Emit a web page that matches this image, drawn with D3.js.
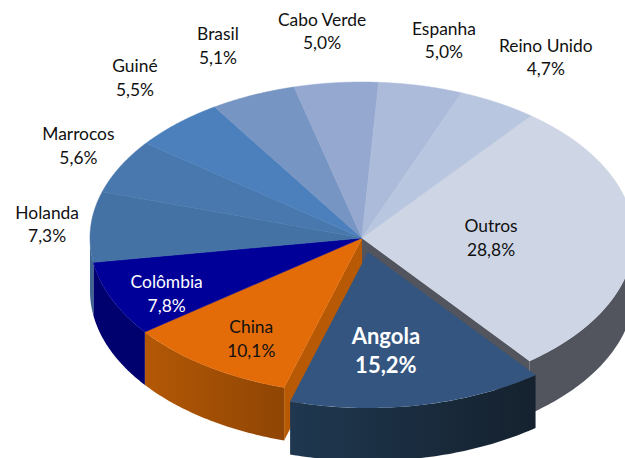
<!DOCTYPE html>
<html lang="pt">
<head>
    <meta charset="UTF-8">
    <title>Pie 3D</title>
    <script src="https://d3js.org/d3.v7.min.js"></script>
    <style>
        html, body { margin: 0; padding: 0; background: #ffffff; overflow: hidden; }
        svg { display: block; }
        text { font-family: Lato, "Open Sans", sans-serif; font-size: 17.4px; }
    </style>
</head>
<body>
    <svg width="625" height="458"></svg>
    <script>
        const countries = ["Outros", "Angola", "China", "Colômbia", "Holanda", "Marrocos", "Guiné", "Brasil", "Cabo Verde", "Espanha", "Reino Unido"];
        const shares = [28.8, 15.2, 10.1, 7.8, 7.3, 5.6, 5.5, 5.1, 5.0, 5.0, 4.7];

        const topColors = ["#ced5e5", "#33557f", "#e36c09", "#000099", "#4472a4", "#4878ae", "#4c80bc", "#7695c3", "#95a8d0", "#acbbda", "#b9c6df"];
        const wallColors = ["#52555e", "url(#angolaWall)", "url(#chinaWall)", "#00006e", "#3f6690", "#3f6690", "#3f6690", "#3f6690", "#3f6690", "#3f6690", "#3f6690"];
        const textColors = ["#111", "#fff", "#111", "#fff", "#111", "#111", "#111", "#111", "#111", "#111", "#111"];
        // label centre, relative to the middle of each slice's rim
        const labelOffsets = [[-143, -1.5], [-32.6, -55], [44.5, -28], [55, -5.5], [-43.6, -3], [-42, -21], [-42.6, -46], [-35, -50], [-14, -52], [23, -46], [48, -46]];

        const cx = 362, cy = 238, rx = 272, ry = 156, depth = 53;
        const explodedName = "Angola", explode = [6, 14];
        const rad = Math.PI / 180;

        const svg = d3.select("svg");
        const defs = svg.append("defs");

        function hGradient(id, x1, x2, c1, c2) {
            const g = defs.append("linearGradient").attr("id", id)
                .attr("gradientUnits", "userSpaceOnUse")
                .attr("x1", x1).attr("x2", x2).attr("y1", 0).attr("y2", 0);
            g.append("stop").attr("offset", 0).attr("stop-color", c1);
            g.append("stop").attr("offset", 1).attr("stop-color", c2);
        }
        hGradient("chinaWall", 145, 285, "#b35806", "#8f4504");
        hGradient("angolaWall", 290, 535, "#1f3850", "#15212e");

        const pie = d3.pie().sort(null).startAngle(38.4 * rad).endAngle(398.4 * rad);
        const slices = pie(shares).map((d, i) => ({
            name: countries[i], value: d.value, a0: d.startAngle, a1: d.endAngle, i: i,
            off: countries[i] === explodedName ? explode : [0, 0]
        }));

        const rim = (a, d, k = 1) => [cx + d.off[0] + k * rx * Math.sin(a), cy + d.off[1] - k * ry * Math.cos(a)];
        const line = d3.line();

        function wallPath(d) {
            // only the front half of the ellipse shows a wall
            const lo = Math.max(d.a0, Math.PI / 2), hi = Math.min(d.a1, 1.5 * Math.PI);
            if (hi <= lo) return null;
            const angles = d3.range(0, 61).map(j => lo + (hi - lo) * j / 60);
            const upper = angles.map(a => rim(a, d));
            const lower = angles.slice().reverse().map(a => { const p = rim(a, d); return [p[0], p[1] + depth]; });
            return line(upper.concat(lower)) + "Z";
        }

        function radialWall(d, a) {
            const c = [cx + d.off[0], cy + d.off[1]], p = rim(a, d);
            return line([c, p, [p[0], p[1] + depth], [c[0], c[1] + depth]]) + "Z";
        }

        function topPath(d) {
            const pts = [[cx + d.off[0], cy + d.off[1]]];
            const n = 80;
            for (let j = 0; j <= n; j++) pts.push(rim(d.a0 + (d.a1 - d.a0) * j / n, d));
            return line(pts) + "Z";
        }

        const base = slices.filter(d => d.name !== explodedName);
        const exploded = slices.filter(d => d.name === explodedName);

        svg.append("g").selectAll("path").data(base.filter(d => wallPath(d))).join("path")
            .attr("d", wallPath).attr("fill", d => wallColors[d.i]);

        // faces left open by the exploded slice
        const gap = exploded[0];
        const neighbours = [[slices[gap.i - 1], gap.a0], [slices[gap.i + 1], gap.a1]];
        svg.append("g").selectAll("path").data(neighbours).join("path")
            .attr("d", n => radialWall(n[0], n[1]))
            .attr("fill", n => n[0].name === "China" ? "#b85a05" : wallColors[n[0].i]);

        svg.append("g").selectAll("path").data(base).join("path")
            .attr("d", topPath).attr("fill", d => topColors[d.i])
            .attr("stroke", d => topColors[d.i]).attr("stroke-width", 0.5);

        svg.append("g").selectAll("path").data(exploded).join("path")
            .attr("d", wallPath).attr("fill", d => wallColors[d.i]);
        svg.append("g").selectAll("path").data(exploded).join("path")
            .attr("d", topPath).attr("fill", d => topColors[d.i]);

        const fmt = v => v.toFixed(1).replace(".", ",") + "%";
        const labels = svg.append("g").selectAll("text").data(slices).join("text")
            .attr("text-anchor", "middle")
            .attr("fill", d => textColors[d.i])
            .attr("font-weight", d => d.name === explodedName ? 700 : 400)
            .style("font-size", d => d.name === explodedName ? "22px" : null)
            .attr("transform", d => {
                const p = rim((d.a0 + d.a1) / 2, d);
                return `translate(${p[0] + labelOffsets[d.i][0]},${p[1] + labelOffsets[d.i][1]})`;
            });
        labels.append("tspan").attr("x", 0).attr("y", d => d.name === explodedName ? -6 : -5).text(d => d.name);
        labels.append("tspan").attr("x", 0).attr("y", d => d.name === explodedName ? 23 : 18.5).text(d => fmt(d.value));
    </script>
</body>
</html>
